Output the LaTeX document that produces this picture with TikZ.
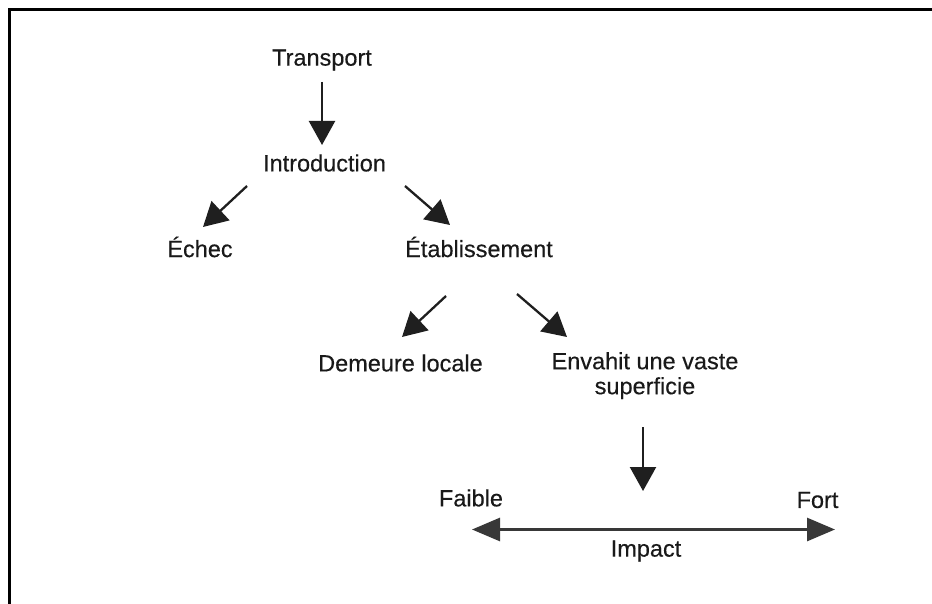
\documentclass[tikz,border=0pt]{standalone}
\usepackage{fontspec}
\setmainfont{Liberation Sans}[FakeBold=0.35]
\usetikzlibrary{arrows.meta}
\begin{document}
\begin{tikzpicture}[x=1pt,y=-1pt,
  lbl/.style={inner sep=0pt, text=black!90, font=\fontsize{23.5}{29}\selectfont, align=center},
  arr/.style={line width=2.3pt, draw=black!88, -{Triangle[length=24pt,width=26pt]}},
  harr/.style={line width=2.8pt, draw=black!78, {Triangle[length=28pt,width=23pt]}-{Triangle[length=28pt,width=23pt]}},
  frame/.style={line width=3pt, draw=black}]
\useasboundingbox (0,0) rectangle (932,604);
\fill[white] (0,0) rectangle (932,604);
\draw[frame] (9.5,604) -- (9.5,9.5) -- (932,9.5);

\node[lbl] (transport) at (322,60) {Transport};
\node[lbl] (intro) at (324.5,163) {Introduction};
\node[lbl] (echec) at (200,247) {Échec};
\node[lbl] (etab) at (479,247) {Établissement};
\node[lbl] (demeure) at (400.5,363) {Demeure locale};
\node[lbl, anchor=north] (envahit) at (645,352) {Envahit une vaste\\[-4pt]superficie};
\node[lbl] (faible) at (471,498) {Faible};
\node[lbl] (fort) at (817.5,500) {Fort};
\node[lbl] (impact) at (646,551) {Impact};
\coordinate (gauche) at (472,529.5);
\coordinate (droite) at (835,529.5);

\draw[arr] ([shift={(0,22)}]transport.center) -- ([shift={(-2.5,-18)}]intro.center);
\draw[arr] ([shift={(-77.5,23)}]intro.center) -- ([shift={(3,-20)}]echec.center);
\draw[arr] ([shift={(80.5,23)}]intro.center) -- ([shift={(-29,-22)}]etab.center);
\draw[arr] ([shift={(-33,49)}]etab.center) -- ([shift={(1.5,-26)}]demeure.center);
\draw[arr] ([shift={(38,47)}]etab.center) -- ([shift={(-78,-26)}]demeure.center -| envahit.center);
\draw[arr] ([shift={(-2,75)}]envahit.north) -- ([shift={(-2,139)}]envahit.north);
\draw[harr] (gauche) -- (droite);
\end{tikzpicture}
\end{document}
